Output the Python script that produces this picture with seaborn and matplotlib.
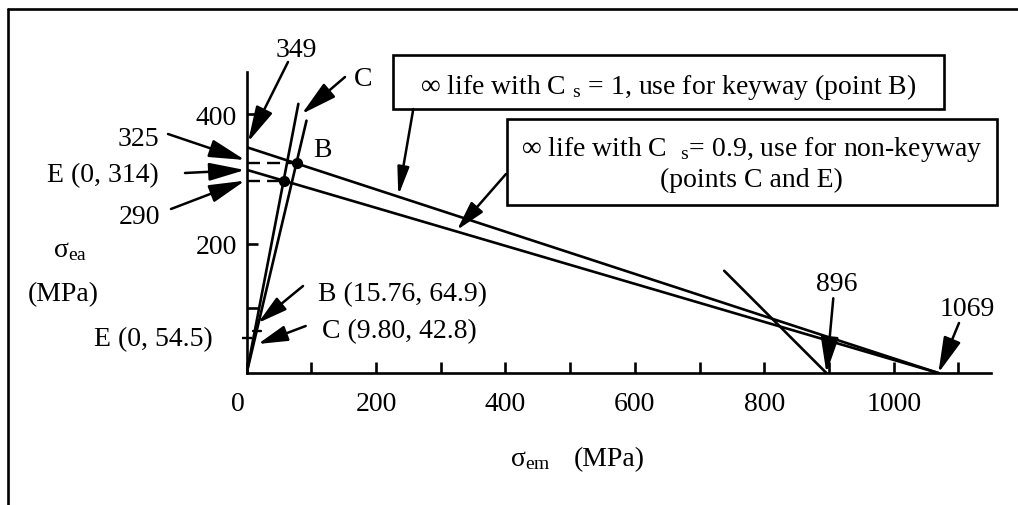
import numpy as np
import pandas as pd
import matplotlib
matplotlib.use("Agg")
import matplotlib.pyplot as plt
import matplotlib.transforms as mtransforms
from matplotlib.patches import Rectangle
from matplotlib.lines import Line2D
import seaborn as sns

# ---------------- data ----------------
goodman_names = ["Cs = 1 (keyway)", "Cs = 0.9 (non-keyway)"]
endurance_limits = [349, 314]          # sigma_ea intercepts (MPa)
ultimate_strength = 1069               # sigma_em intercept (MPa)
yield_strength = 896                   # Langer line intercept (MPa)
langer_start_sm = 738                  # where the drawn Langer segment starts
point_names = ["B", "C"]
point_sm = [77, 57]                    # intersection points (sigma_em)
point_sa = [325, 297]                  # intersection points (sigma_ea)
load_line_top_sa = [390, 416]          # upper end of the load lines
stress_B = [15.76, 64.9]
stress_C = [9.80, 42.8]
stress_E = [0, 54.5]
x_ticks = list(range(0, 1200, 100))
x_ticklabels = ["0", "", "200", "", "400", "", "600", "", "800", "", "1000", ""]
y_ticks = [100, 200, 400]
y_ticklabels = ["", "200", "400"]
x_max, y_max = 1151, 465

# ---------------- styling ----------------
sns.set_theme(style="white")
plt.rcParams["font.family"] = ["Liberation Serif", "DejaVu Serif"]
plt.rcParams["mathtext.fontset"] = "custom"
plt.rcParams["mathtext.rm"] = "Liberation Serif"
plt.rcParams["mathtext.it"] = "Liberation Serif:italic"
plt.rcParams["mathtext.bf"] = "Liberation Serif:bold"

W, H, DPI = 1018, 506, 100
FS = 20
LW = 1.9
fig = plt.figure(figsize=(W / DPI, H / DPI), dpi=DPI)
fig.patch.set_facecolor("white")

# axes: origin at pixel (246.7, 374), 0.647 px per MPa on both axes
ox, oy, sc = 246.7, 374.0, 0.647
ax = fig.add_axes([ox / W, (H - oy) / H, x_max * sc / W, y_max * sc / H])
ax.set_facecolor("white")

# ---------------- lines ----------------
rows = []
for name, se in zip(goodman_names, endurance_limits):
    rows += [(name, 0, se), (name, ultimate_strength, 0)]
rows += [("Langer", langer_start_sm, yield_strength - langer_start_sm),
         ("Langer", yield_strength, 0)]
slopes = {}
for name, sm, sa, top in zip(point_names, point_sm, point_sa, load_line_top_sa):
    slope = sa / sm
    slopes[name] = slope
    rows += [("load " + name, 0, 0), ("load " + name, top / slope, top)]
lines = pd.DataFrame(rows, columns=["line", "sm", "sa"])
sns.lineplot(data=lines, x="sm", y="sa", units="line", estimator=None, sort=False,
             color="black", linewidth=LW, legend=False, ax=ax)

# dashed projections to the y axis
drows = []
for name, sm, sa in zip(point_names, point_sm, point_sa):
    drows += [(name, 0, sa), (name, sm, sa)]
dashed = pd.DataFrame(drows, columns=["line", "sm", "sa"])
sns.lineplot(data=dashed, x="sm", y="sa", units="line", estimator=None, sort=False,
             color="black", linewidth=1.7, linestyle=(0, (5.5, 3)), legend=False, ax=ax)

# small mark for stress point B on its load line
bm = stress_B[1] / slopes["B"]
mark = pd.DataFrame({"sm": [bm - 6, bm + 6], "sa": [stress_B[1], stress_B[1]]})
sns.lineplot(data=mark, x="sm", y="sa", estimator=None, sort=False,
             color="black", linewidth=1.7, legend=False, ax=ax)

# intersection dots
sns.scatterplot(x=point_sm, y=point_sa, color="black", s=65, linewidth=0,
                legend=False, ax=ax, zorder=5)

# ---------------- axes ----------------
ax.set_xlim(0, x_max)
ax.set_ylim(0, y_max)
ax.set_xlabel("")
ax.set_ylabel("")
for s in ["top", "right"]:
    ax.spines[s].set_visible(False)
for s in ["left", "bottom"]:
    ax.spines[s].set_color("black")
    ax.spines[s].set_linewidth(LW)
ax.set_xticks(x_ticks)
ax.set_xticklabels(x_ticklabels)
ax.set_yticks(y_ticks)
ax.set_yticklabels(y_ticklabels)
ax.set_yticks([stress_E[1]], minor=True)
ax.tick_params(axis="both", which="both", bottom=True, left=True, top=False, right=False)
ax.tick_params(axis="both", which="major", direction="in", length=8, width=LW,
               colors="black", labelsize=FS)
ax.tick_params(axis="x", which="major", pad=13)
ax.tick_params(axis="y", which="major", pad=7)
ax.tick_params(axis="y", which="minor", direction="inout", length=7, width=1.7,
               colors="black")
zero_lbl = ax.get_xticklabels()[0]
zero_lbl.set_transform(zero_lbl.get_transform() +
                       mtransforms.ScaledTranslation(-9 / DPI, 0, fig.dpi_scale_trans))

# ---------------- texts ----------------
def ftext(px, py, s, ha="center", fs=FS):
    fig.text(px / W, 1 - (py + 2.5) / H, s, fontsize=fs, ha=ha, va="center",
             color="black")

ftext(296, 48, "349")
ftext(363, 77, "C")
ftext(138, 137, "325")
ftext(103, 173, "E (0, 314)")
ftext(140, 215, "290")
ftext(322, 148, "B")
ftext(318, 291.7, f"B ({stress_B[0]:.2f}, {stress_B[1]})", ha="left")
ftext(322, 329, f"C ({stress_C[0]:.2f}, {stress_C[1]})", ha="left")
ftext(213, 337, f"E ({stress_E[0]}, {stress_E[1]})", ha="right")
ftext(70, 248, r"σ$_{\mathrm{ea}}$")
ftext(63.5, 292, "(MPa)")
ftext(530, 457, r"σ$_{\mathrm{em}}$")
ftext(609, 457, "(MPa)")
ftext(836.7, 282.3, f"{yield_strength}")
ftext(967.7, 307.3, f"{ultimate_strength}")
ftext(668.3, 85, r"∞ life with C ${}_{\mathrm{s}}$ = 1, use for keyway (point B)")
ftext(751.7, 147, r"∞ life with C  ${}_{\mathrm{s}}$= 0.9, use for non-keyway")
ftext(751.7, 178, "(points C and E)")

# boxes
fig.add_artist(Rectangle((392.7 / W, 1 - 110 / H), (944 - 392.7) / W, (110 - 56) / H,
                         transform=fig.transFigure, fill=False, lw=LW, ec="black"))
fig.add_artist(Rectangle((506.7 / W, 1 - 205.7 / H), (996.7 - 506.7) / W, (205.7 - 120) / H,
                         transform=fig.transFigure, fill=False, lw=LW, ec="black"))

# outer frame (top and left edges)
fig.add_artist(Line2D([8.3 / W, 1], [1 - 10 / H, 1 - 10 / H], transform=fig.transFigure,
                      lw=LW, color="black"))
fig.add_artist(Line2D([8.3 / W, 8.3 / W], [0, 1 - 10 / H], transform=fig.transFigure,
                      lw=LW, color="black"))

# ---------------- arrows ----------------
BIG = "-|>,head_length=2.2,head_width=0.55"
MID = "-|>,head_length=1.8,head_width=0.48"
SMALL = "-|>,head_length=1.7,head_width=0.35"

def arrow(tail, tip, style, tip_data=False):
    xy = tip if tip_data else (tip[0], H - tip[1])
    ax.annotate("", xy=xy, xycoords="data" if tip_data else "figure pixels",
                xytext=(tail[0], H - tail[1]), textcoords="figure pixels",
                arrowprops=dict(arrowstyle=style, color="black", lw=1.8,
                                shrinkA=0, shrinkB=0, mutation_scale=10),
                annotation_clip=False)

arrow((288, 63), (248, 143), BIG)
arrow((345, 78), (301.7, 115), BIG)
arrow((168, 135), (245, 161), BIG)
arrow((185, 174), (245, 171), BIG)
arrow((171, 210), (245, 181.7), BIG)
arrow((303, 287), (258, 324), MID)
arrow((305.7, 327), (258, 345), MID)
arrow((413.3, 110), (398.3, 196.7), SMALL)
arrow((506, 175), (457, 231), MID)
arrow((833.3, 299.3), (yield_strength, 0), BIG, tip_data=True)
arrow((959, 324), (ultimate_strength, 0), BIG, tip_data=True)

fig.savefig("out.png", dpi=DPI, facecolor="white")
